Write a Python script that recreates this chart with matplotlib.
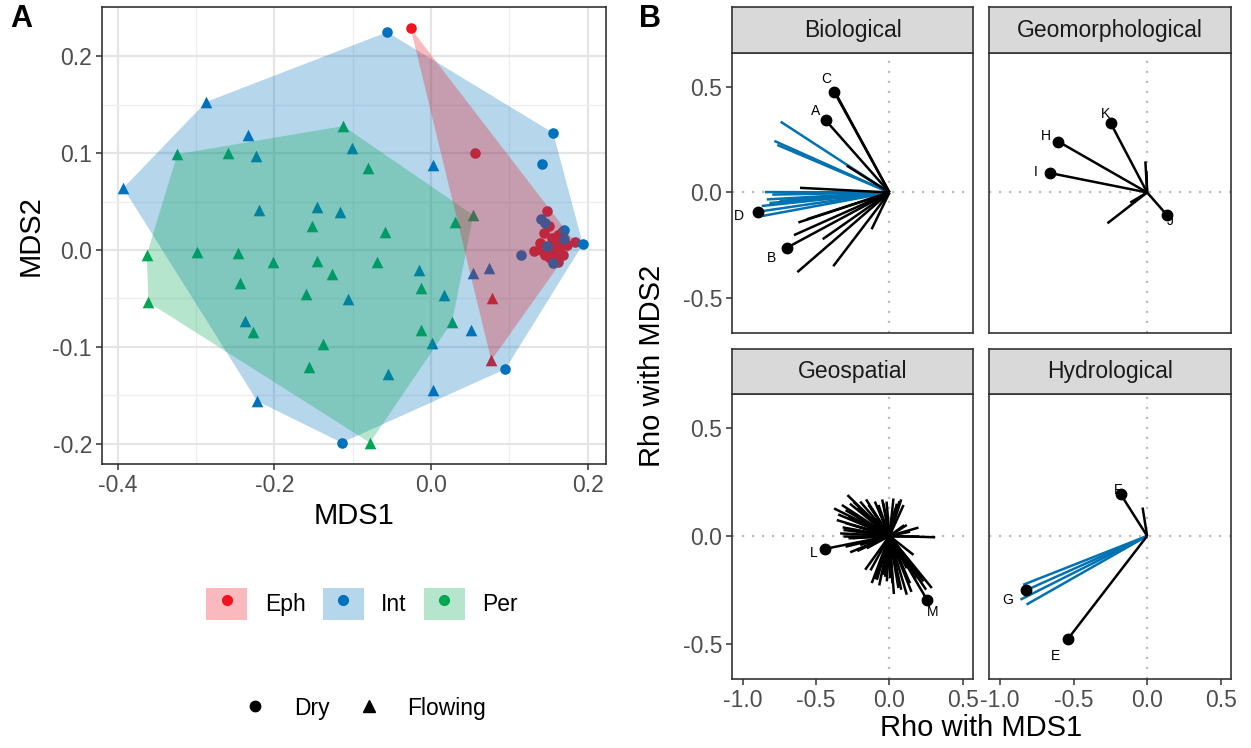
import numpy as np
import matplotlib
matplotlib.use("Agg")
import matplotlib.pyplot as plt
from matplotlib.patches import Patch, Polygon
from matplotlib.lines import Line2D
from matplotlib.legend_handler import HandlerTuple

plt.rcParams["font.family"] = ["Liberation Sans", "DejaVu Sans"]
plt.rcParams["axes.unicode_minus"] = False

# ---- panel A: NMDS scores ----
eph_dry_x = [-0.026, 0.056, 0.148, 0.144, 0.139, 0.132, 0.148, 0.156, 0.162, 0.165, 0.169,
             0.152, 0.184, 0.158, 0.155, 0.160, 0.146, 0.174, 0.140, 0.162, 0.151, 0.167]
eph_dry_y = [0.229, 0.100, 0.040, 0.018, 0.007, -0.001, 0.003, -0.002, 0.015, 0.003, -0.005,
             -0.008, 0.008, 0.007, 0.012, -0.008, -0.005, 0.005, 0.000, -0.012, 0.025, 0.019]
eph_flow_x = [0.078, 0.077]
eph_flow_y = [-0.050, -0.114]

int_dry_x = [-0.056, 0.156, 0.142, 0.194, 0.095, -0.114, 0.115, 0.140, 0.146, 0.170, 0.170, 0.148, 0.156]
int_dry_y = [0.225, 0.121, 0.089, 0.006, -0.123, -0.199, -0.005, 0.032, 0.028, 0.021, 0.011, 0.004, -0.013]
int_flow_x = [-0.287, -0.393, -0.234, -0.224, 0.003, -0.101, -0.220, -0.146, -0.116, -0.015,
              0.017, -0.106, -0.238, 0.001, -0.055, 0.051, 0.003, -0.222, 0.054, 0.074]
int_flow_y = [0.153, 0.064, 0.119, 0.097, 0.088, 0.105, 0.041, 0.044, 0.039, -0.021,
              -0.046, -0.051, -0.073, -0.096, -0.128, -0.083, -0.145, -0.156, -0.024, -0.019]

per_dry_x = []
per_dry_y = []
per_flow_x = [-0.112, -0.324, -0.259, -0.080, 0.054, 0.031, -0.152, -0.059, -0.363, -0.299, -0.246,
              -0.202, -0.146, -0.069, -0.126, -0.244, -0.160, -0.361, -0.013, -0.227, -0.013,
              0.027, -0.138, -0.156, -0.078]
per_flow_y = [0.128, 0.099, 0.100, 0.085, 0.036, 0.029, 0.025, 0.019, -0.005, -0.002, -0.003,
              -0.012, -0.011, -0.012, -0.025, -0.034, -0.045, -0.054, -0.039, -0.085, -0.083,
              -0.074, -0.097, -0.121, -0.199]

regimes = ["Eph", "Int", "Per"]
regime_colors = ["#F0141E", "#0072BD", "#00A651"]

# ---- panel B: correlation vectors (tips of arrows from the origin) ----
bio_black_x = [-0.435, -0.702, -0.377, -0.360, -0.611, -0.622, -0.652, -0.629, -0.384, -0.456, -0.122, -0.565, -0.292]
bio_black_y = [0.341, -0.262, 0.476, 0.460, 0.022, -0.142, -0.202, -0.377, -0.349, -0.221, -0.174, -0.127, 0.127]
bio_blue_x = [-0.896, -0.743, -0.786, -0.766, -0.850, -0.838, -0.872, -0.866, -0.800, -0.750, -0.820]
bio_blue_y = [-0.091, 0.335, 0.244, 0.225, 0.002, -0.033, -0.064, -0.111, -0.010, -0.040, -0.050]
bio_lab = ["A", "B", "C", "D"]
bio_lab_x = [-0.435, -0.702, -0.377, -0.896]
bio_lab_y = [0.341, -0.262, 0.476, -0.091]

geo_black_x = [-0.247, -0.604, -0.661, 0.136, -0.012, -0.270, -0.115, -0.005]
geo_black_y = [0.327, 0.241, 0.092, -0.108, 0.147, -0.146, -0.048, 0.100]
geo_blue_x = []
geo_blue_y = []
geo_lab = ["H", "I", "J", "K"]
geo_lab_x = [-0.604, -0.661, 0.136, -0.247]
geo_lab_y = [0.241, 0.092, -0.108, 0.327]

spa_black_x = [-0.440, 0.259, -0.287, -0.378, -0.360, -0.325, -0.246, -0.177, -0.143, -0.075, -0.041,
               -0.064, -0.314, -0.337, -0.223, -0.121, 0.068, 0.096, 0.039, 0.118, 0.198, 0.141,
               0.312, -0.121, -0.086, -0.018, 0.005, 0.061, 0.118, 0.209, 0.289, 0.232, -0.166,
               -0.268, -0.200, 0.050, 0.005, 0.118, -0.280, -0.155, 0.027, -0.086, 0.164, -0.041,
               -0.350, -0.300, -0.270, -0.220, -0.200, -0.160, -0.100, -0.050, -0.020, -0.300,
               -0.250, -0.280, -0.320, -0.180, -0.120, -0.320, -0.250, -0.200, 0.100, 0.200,
               0.080, 0.050, -0.100, -0.070, -0.030, 0.020, 0.080, 0.140, 0.180, 0.250, 0.030,
               -0.130, -0.050, 0.100, 0.150, -0.300, -0.220]
spa_black_y = [-0.060, -0.300, 0.190, 0.128, 0.074, 0.144, 0.159, 0.113, 0.144, 0.144, 0.151,
               0.105, 0.028, 0.012, 0.090, 0.128, 0.162, 0.144, 0.128, 0.051, 0.039, 0.020,
               -0.006, -0.219, -0.204, -0.211, -0.196, -0.242, -0.273, -0.181, -0.242, -0.211, -0.157,
               -0.076, -0.042, -0.103, -0.150, -0.150, -0.011, -0.057, 0.174, -0.026, -0.088, -0.181,
               0.100, 0.120, 0.150, 0.130, 0.160, 0.170, 0.160, 0.170, 0.160, 0.060,
               0.050, 0.090, 0.040, 0.060, 0.090, 0.000, -0.010, 0.020, 0.050, 0.000,
               0.170, 0.150, -0.200, -0.230, -0.190, -0.220, -0.250, -0.220, -0.200, -0.250, -0.270,
               -0.160, -0.130, -0.120, -0.260, -0.050, -0.070]
spa_blue_x = []
spa_blue_y = []
spa_lab = ["L", "M"]
spa_lab_x = [-0.440, 0.259]
spa_lab_y = [-0.060, -0.300]

hyd_black_x = [-0.179, -0.541, -0.031]
hyd_black_y = [0.193, -0.481, 0.132]
hyd_blue_x = [-0.825, -0.843, -0.861, -0.820]
hyd_blue_y = [-0.253, -0.227, -0.296, -0.319]
hyd_lab = ["E", "F", "G"]
hyd_lab_x = [-0.541, -0.179, -0.825]
hyd_lab_y = [-0.481, 0.193, -0.253]

# label offsets (points) for the vector tips
lab_offset = {"A": (-7, 7), "B": (-11, -7), "C": (-6, 9), "D": (-14, -3),
              "H": (-9, 4), "I": (-10, 1), "J": (2, -4), "K": (-4, 7),
              "L": (-8, -3), "M": (4, -8), "E": (-9, -12), "F": (-2, 3), "G": (-13, -7)}


def convex_hull(xs, ys):
    pts = sorted(set(zip(xs, ys)))
    if len(pts) < 3:
        return pts

    def cross(o, a, b):
        return (a[0] - o[0]) * (b[1] - o[1]) - (a[1] - o[1]) * (b[0] - o[0])

    lower, upper = [], []
    for p in pts:
        while len(lower) >= 2 and cross(lower[-2], lower[-1], p) <= 0:
            lower.pop()
        lower.append(p)
    for p in reversed(pts):
        while len(upper) >= 2 and cross(upper[-2], upper[-1], p) <= 0:
            upper.pop()
        upper.append(p)
    return lower[:-1] + upper[:-1]


W, H = 1251, 748
fig = plt.figure(figsize=(W / 100, H / 100), dpi=100)


def box(x0, y0, x1, y1):
    # pixel box (top-left origin) -> figure rect
    return [x0 / W, 1 - y1 / H, (x1 - x0) / W, (y1 - y0) / H]


edge = "#333333"
tick_col = "#4D4D4D"
tick_fs = 16.5
title_fs = 21

# ---------------- panel A ----------------
axA = fig.add_axes(box(101.7, 7, 606, 464))
groups = [(eph_dry_x, eph_dry_y, eph_flow_x, eph_flow_y),
          (int_dry_x, int_dry_y, int_flow_x, int_flow_y),
          (per_dry_x, per_dry_y, per_flow_x, per_flow_y)]
for (dx, dy, fx, fy), col in zip(groups, regime_colors):
    axA.scatter(dx, dy, marker="o", s=58, color=col, linewidths=0, zorder=2)
    axA.scatter(fx, fy, marker="^", s=70, color=col, linewidths=0, zorder=2)
# hulls on top of the points: Int, then Per, then Eph
for j, k in enumerate([1, 2, 0]):
    dx, dy, fx, fy = groups[k]
    hull = convex_hull(list(dx) + list(fx), list(dy) + list(fy))
    axA.add_patch(Polygon(hull, closed=True, facecolor=regime_colors[k], alpha=0.29,
                          edgecolor="none", zorder=3 + j * 0.01))

axA.set_xlim(-0.4206, 0.2235)
axA.set_ylim(-0.221, 0.251)
axA.set_xticks([-0.4, -0.2, 0.0, 0.2])
axA.set_xticklabels(["-0.4", "-0.2", "0.0", "0.2"])
axA.set_xticks([-0.3, -0.1, 0.1], minor=True)
axA.set_yticks([-0.2, -0.1, 0.0, 0.1, 0.2])
axA.set_yticklabels(["-0.2", "-0.1", "0.0", "0.1", "0.2"])
axA.set_yticks([-0.15, -0.05, 0.05, 0.15], minor=True)
axA.grid(which="major", color="#E5E5E5", lw=1.6)
axA.grid(which="minor", color="#EFEFEF", lw=0.9)
axA.set_axisbelow(True)
axA.tick_params(which="major", length=4, width=1.1, color=edge, labelsize=tick_fs, labelcolor=tick_col, pad=3)
axA.tick_params(which="minor", length=0)
for s in axA.spines.values():
    s.set_color(edge)
    s.set_linewidth(1.2)
axA.set_xlabel("MDS1", fontsize=title_fs, labelpad=4)
axA.set_ylabel("MDS2", fontsize=title_fs, labelpad=6)

fig.text(10 / W, 1 - 4 / H, "A", fontsize=22, fontweight="bold", va="top", ha="left")
fig.text(639 / W, 1 - 4 / H, "B", fontsize=22, fontweight="bold", va="top", ha="left")

# legends for panel A
fill_handles = [(Patch(facecolor=c, alpha=0.29, edgecolor="none"),
                 Line2D([], [], marker="o", ls="", color=c, markersize=7))
                for c in regime_colors]
fig.legend(fill_handles, regimes, handler_map={tuple: HandlerTuple(ndivide=1, pad=0)},
           loc="center", bbox_to_anchor=(362 / W, 1 - 604 / H), ncol=3, frameon=False,
           fontsize=tick_fs, handlelength=1.8, handleheight=1.8, handletextpad=0.75,
           columnspacing=0.75, borderpad=0)
shape_handles = [Line2D([], [], marker="o", ls="", color="black", markersize=7.5),
                 Line2D([], [], marker="^", ls="", color="black", markersize=8)]
fig.legend(shape_handles, ["Dry", "Flowing"], loc="center", bbox_to_anchor=(365 / W, 1 - 708 / H),
           ncol=2, frameon=False, fontsize=tick_fs, handlelength=1.0, handletextpad=1.2,
           columnspacing=1.2, borderpad=0)

# ---------------- panel B ----------------
facets = [
    ("Biological", bio_black_x, bio_black_y, bio_blue_x, bio_blue_y, bio_lab, bio_lab_x, bio_lab_y),
    ("Geomorphological", geo_black_x, geo_black_y, geo_blue_x, geo_blue_y, geo_lab, geo_lab_x, geo_lab_y),
    ("Geospatial", spa_black_x, spa_black_y, spa_blue_x, spa_blue_y, spa_lab, spa_lab_x, spa_lab_y),
    ("Hydrological", hyd_black_x, hyd_black_y, hyd_blue_x, hyd_blue_y, hyd_lab, hyd_lab_x, hyd_lab_y),
]
cols_px = [(732, 973), (989, 1231)]
rows_px = [(7, 53, 333), (349, 394, 679)]
vec_blue = "#0072B2"

for i, (name, kx, ky, bx, by, labs, lx, ly) in enumerate(facets):
    r, c = divmod(i, 2)
    x0, x1 = cols_px[c]
    s0, s1, p1 = rows_px[r]
    ax = fig.add_axes(box(x0, s1, x1, p1))
    st = fig.add_axes(box(x0, s0, x1, s1))

    ax.axhline(0, color="#BDBDBD", lw=1.6, ls=(0, (1, 3.5)), zorder=1)
    ax.axvline(0, color="#BDBDBD", lw=1.6, ls=(0, (1, 3.5)), zorder=1)
    for xe, ye in zip(bx, by):
        ax.plot([0, xe], [0, ye], color=vec_blue, lw=1.8, solid_capstyle="butt", zorder=2)
    for xe, ye in zip(kx, ky):
        ax.plot([0, xe], [0, ye], color="black", lw=1.8, solid_capstyle="butt", zorder=3)
    ax.plot(lx, ly, ls="", marker="o", color="black", markersize=7.5, zorder=4)
    for t, xe, ye in zip(labs, lx, ly):
        ax.annotate(t, (xe, ye), xytext=lab_offset[t], textcoords="offset points",
                    ha="center", va="center", fontsize=10, zorder=5)

    ax.set_xlim(-1.075, 0.57)
    ax.set_ylim(-0.665, 0.66)
    ax.set_xticks([-1.0, -0.5, 0.0, 0.5])
    ax.set_xticklabels(["-1.0", "-0.5", "0.0", "0.5"])
    ax.set_yticks([-0.5, 0.0, 0.5])
    ax.set_yticklabels(["-0.5", "0.0", "0.5"])
    ax.tick_params(length=4, width=1.1, color=edge, labelsize=tick_fs, labelcolor=tick_col, pad=3,
                   left=(c == 0), labelleft=(c == 0), bottom=(r == 1), labelbottom=(r == 1))
    for s in ax.spines.values():
        s.set_color(edge)
        s.set_linewidth(1.2)

    st.set_facecolor("#D9D9D9")
    st.set_xticks([])
    st.set_yticks([])
    for s in st.spines.values():
        s.set_color(edge)
        s.set_linewidth(1.2)
    st.text(0.5, 0.5, name, transform=st.transAxes, ha="center", va="center",
            fontsize=tick_fs, color="#1A1A1A")

fig.text(652 / W, 1 - 366 / H, "Rho with MDS2", rotation=90, ha="center", va="center", fontsize=title_fs)
fig.text(981 / W, 1 - 728 / H, "Rho with MDS1", ha="center", va="center", fontsize=title_fs)

fig.savefig("out.png", dpi=100)
